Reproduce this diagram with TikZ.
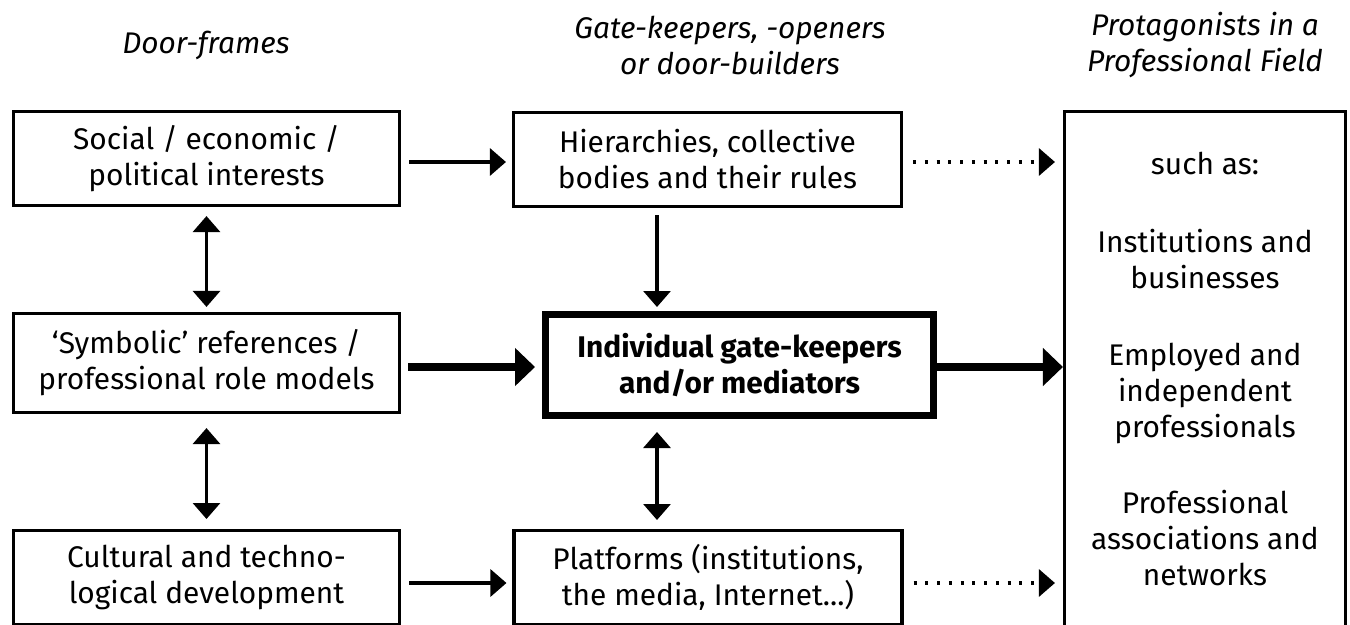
\documentclass[tikz,border=0pt]{standalone}
\usepackage{fontspec}
\setmainfont{Fira Sans}
\usetikzlibrary{arrows.meta}
\newcommand{\fs}{\fontsize{17pt}{20.5pt}\selectfont}
\tikzset{
  box/.style={draw, line width=1.8pt, align=center, inner sep=0pt, minimum width=7.72cm, minimum height=1.88cm},
  keybox/.style={box, line width=4pt, font=\fs\bfseries, minimum width=7.76cm, minimum height=2.02cm},
  heading/.style={align=center, font=\fs\itshape},
  link/.style={line width=1.8pt, -{Triangle[length=0.32cm,width=0.54cm]}},
  twoway/.style={line width=1.8pt, {Triangle[length=0.32cm,width=0.54cm]}-{Triangle[length=0.32cm,width=0.54cm]}},
  fat/.style={line width=4.4pt, -{Triangle[length=0.4cm,width=0.74cm]}},
  dotlink/.style={link, dash pattern=on 0.06cm off 0.175cm},
}
\begin{document}
\begin{tikzpicture}[x=0.02cm, y=-0.02cm, font=\fs]
\useasboundingbox (0,0) rectangle (1350,625);

\node[heading] (frames) at (206,45) {Door-frames};
\node[heading] (keepers) at (730,45) {Gate-keepers, -openers\\or door-builders};
\node[heading] (field) at (1205,45) {Protagonists in a\\Professional Field};

\node[box] (soc) at (206.5,158.5) {Social / economic /\\political interests};
\node[box, minimum width=7.76cm] (hier) at (707.5,159.5) {Hierarchies, collective\\bodies and their rules};
\node[box, minimum height=1.98cm] (sym) at (206.5,363) {`Symbolic' references /\\professional role models};
\node[keybox] (indiv) at (739.5,365) {Individual gate-keepers\\and/or mediators};
\node[box, anchor=north] (cult) at (206.5,529) {Cultural and techno-\\logical development};
\node[box, anchor=north, minimum width=7.76cm] (plat) at (708,529) {Platforms (institutions,\\the media, Internet...)};
\node[box, anchor=north, minimum width=5.62cm, minimum height=10.3cm] (prot) at (1205,110)
  {such as:\\[0.84cm]Institutions and\\businesses\\[0.8cm]Employed and\\independent\\professionals\\[0.8cm]Professional\\associations and\\networks};

\coordinate (up) at (0,162);
\coordinate (ctr) at (0,367);
\coordinate (low) at (0,583);
\coordinate (mid) at (657,0);

\draw[link, shorten <=0.16cm, shorten >=0.12cm] (soc.east |- up) -- (hier.west |- up);
\draw[dotlink, shorten <=0.2cm, shorten >=0.16cm] (hier.east |- up) -- (prot.west |- up);
\draw[link, shorten <=0.14cm, shorten >=0.08cm] (hier.south -| mid) -- (indiv.north -| mid);
\draw[twoway, shorten <=0.18cm, shorten >=0.1cm] (soc.south) -- (sym.north);
\draw[fat, shorten <=0.14cm, shorten >=0.14cm] (sym.east |- ctr) -- (indiv.west |- ctr);
\draw[fat] (indiv.east |- ctr) -- (prot.west |- ctr);
\draw[twoway, shorten <=0.28cm, shorten >=0.2cm] (sym.south) -- (cult.north);
\draw[twoway, shorten <=0.26cm, shorten >=0.18cm] (indiv.south -| mid) -- (plat.north -| mid);
\draw[link, shorten <=0.16cm, shorten >=0.12cm] (cult.east |- low) -- (plat.west |- low);
\draw[dotlink, shorten <=0.2cm, shorten >=0.16cm] (plat.east |- low) -- (prot.west |- low);
\end{tikzpicture}
\end{document}
